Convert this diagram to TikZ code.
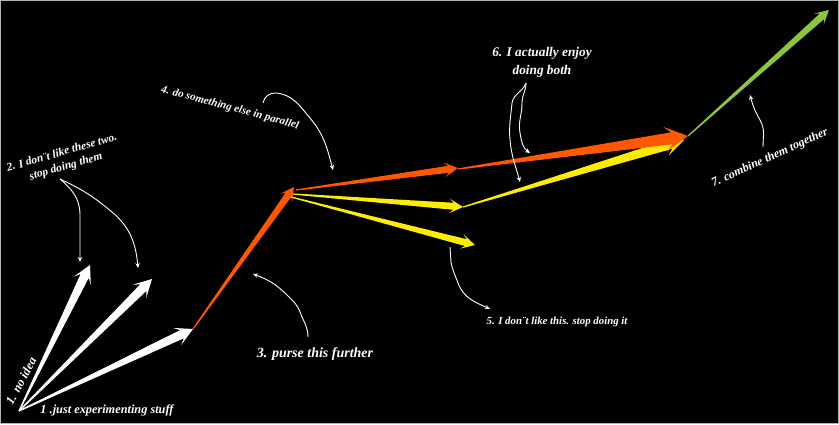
\documentclass[tikz,border=0pt]{standalone}
\usepackage{fontspec}
\setmainfont{Liberation Serif}
\usetikzlibrary{calc,arrows.meta}
\definecolor{orng}{RGB}{255,88,0}
\definecolor{yllw}{RGB}{255,236,0}
\definecolor{grn}{RGB}{140,198,63}
\tikzset{
  note/.style={white, line width=0.9pt, -{Stealth[length=5pt,width=4.5pt]}},
  lbl/.style={text=white, inner sep=0pt},
}
\newcommand{\lblfont}[1]{\bfseries\itshape\fontsize{#1}{#1}\selectfont}
% tapered arrow: colour, from, to, half width of the shaft end
\newcommand{\taperarrow}[4]{%
  \pgfmathsetmacro{\sw}{#4}%
  \pgfmathsetmacro{\hw}{2.1*#4}%
  \pgfmathsetmacro{\ha}{2.7*#4}%
  \pgfmathsetmacro{\hb}{3.9*#4}%
  \path ($(#3)!\ha pt!(#2)$) coordinate (tp-a) ($(#3)!\hb pt!(#2)$) coordinate (tp-b);
  \fill[#1] ($(#2)!0.6pt!90:(#3)$) -- ($(tp-a)!\sw pt!90:(#3)$) -- ($(tp-b)!\hw pt!90:(#3)$)
    -- (#3) -- ($(tp-b)!\hw pt!-90:(#3)$) -- ($(tp-a)!\sw pt!-90:(#3)$) -- ($(#2)!0.6pt!-90:(#3)$) -- cycle;
}
\begin{document}
\begin{tikzpicture}[x=1pt,y=-1pt]
    % background
    \fill[black] (0,0) rectangle (839,424);
    \draw[gray!60, line width=0.8pt] (0.4,0.4) rectangle (838.6,423.6);
    \useasboundingbox (0,0) rectangle (839,424);

    % points
    \coordinate (o) at (19,411);
    \coordinate (w1) at (90,265);
    \coordinate (w2) at (152,279);
    \coordinate (w3) at (193,329);
    \coordinate (p3) at (294,187);
    \coordinate (br) at (296,190);
    \coordinate (by1) at (293,194);
    \coordinate (by2) at (291,197);
    \coordinate (r1) at (458,168);
    \coordinate (y1) at (463,207);
    \coordinate (y2) at (475,245);
    \coordinate (r2) at (458,169);
    \coordinate (y3) at (463,207);
    \coordinate (m) at (688,136);
    \coordinate (my) at (684,140);
    \coordinate (g) at (829,10);

    % white: trying things
    \taperarrow{white}{o}{w1}{4.5}
    \taperarrow{white}{o}{w2}{4.5}
    \taperarrow{white}{o}{w3}{4.5}

    % orange: go further
    \taperarrow{orng}{w3}{p3}{3.5}

    % branches
    \taperarrow{yllw}{by2}{y2}{3.5}
    \taperarrow{yllw}{by1}{y1}{3.5}
    \taperarrow{orng}{br}{r1}{3.5}
    \taperarrow{yllw}{y3}{my}{5}
    \taperarrow{orng}{r2}{m}{6}

    % green: together
    \taperarrow{grn}{m}{g}{3.5}

    % labels
    \node[lbl, font=\lblfont{12.5}, rotate=62] (l1a) at (21,381) {1. no idea};
    \node[lbl, font=\lblfont{12.3}] (l1b) at (107,410) {1 .just experimenting stuff};
    \node[lbl, font=\lblfont{11.5}, align=center, rotate=16] (l2) at (64,160) {2. I don¨t like these two.\\[3pt]stop doing them};
    \node[lbl, font=\lblfont{14}] (l3) at (315,354) {3. purse this further};
    \node[lbl, font=\lblfont{11}, rotate=-15] (l4) at (230,108) {4. do something else in parallel};
    \node[lbl, font=\lblfont{10.8}] (l5) at (557,322) {5. I don¨t like this. stop doing it};
    \node[lbl, font=\lblfont{13.3}, align=center] (l6) at (542,62) {6. I actually enjoy\\[5pt]doing both};
    \node[lbl, font=\lblfont{12}, rotate=24.5] (l7) at (770,158) {7. combine them together};

    % curly notes
    \coordinate (n2) at (60,179);
    \coordinate (n2a) at (80,262);
    \coordinate (n2b) at (138,268);
    \draw[note] (n2) to[out=-40,in=90] (80,215) -- (n2a);
    \draw[note] (n2) to[out=-25,in=140] (112,212) to[out=-40,in=95] (n2b);

    \coordinate (n4) at (263,103);
    \coordinate (n4a) at (333,170);
    \draw[note] (n4) to[out=80,in=175] (276,93) to[out=-5,in=130] (310,118) to[out=-50,in=105] (n4a);

    \coordinate (n3) at (308,337);
    \coordinate (n3a) at (253,274);
    \draw[note] (n3) to[out=90,in=-70] (300,312) to[out=110,in=-45] (287,295) to[out=135,in=-20] (n3a);

    \coordinate (n5) at (450,247);
    \coordinate (n5a) at (490,309);
    \draw[note] (n5) -- (451,262) to[out=-80,in=110] (458,283) to[out=-70,in=155] (n5a);

    \coordinate (n6) at (526,83);
    \coordinate (n6a) at (520,182);
    \coordinate (n6b) at (530,153);
    \draw[note] (n6) to[out=-110,in=80] (512,103) to[out=-95,in=95] (510,140) to[out=-85,in=105] (n6a);
    \draw[note] (n6) to[out=-90,in=90] (522,103) to[out=-90,in=100] (520,133) to[out=-80,in=145] (n6b);

    \coordinate (n7) at (763,147);
    \coordinate (n7a) at (750,95);
    \draw[note] (n7) to[out=90,in=-60] (760,120) to[out=120,in=-75] (n7a);
\end{tikzpicture}
\end{document}
